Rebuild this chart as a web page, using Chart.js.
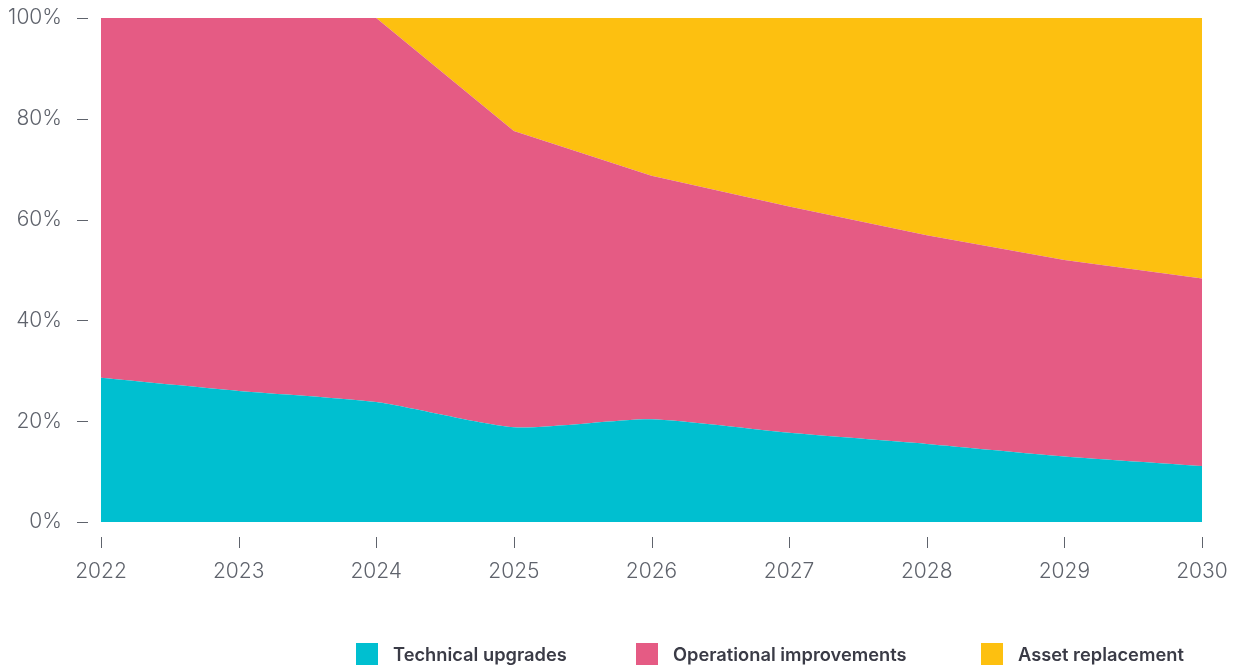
<!DOCTYPE html>
<html><head><meta charset="utf-8">
<script src="https://cdn.jsdelivr.net/npm/chart.js@4.4.1/dist/chart.umd.min.js"></script>
<style>
html,body{margin:0;padding:0;background:#fff;}
#wrap{position:relative;width:1237px;height:666px;}
.li{position:absolute;top:643px;display:flex;align-items:center;height:22px;font-family:Inter,"Noto Sans",sans-serif;font-weight:600;font-size:18.3px;color:#3a3b46;white-space:nowrap;}
.sw{width:22px;height:22px;margin-right:15px;flex:none;}
</style></head>
<body>
<div id="wrap"><canvas id="c" width="1237" height="666"></canvas></div>
<script>
const years = ['2022','2023','2024','2025','2026','2027','2028','2029','2030'];
const technicalUpgrades = [28.6, 26.0, 23.8, 18.8, 20.4, 17.7, 15.5, 13.0, 11.1];
const operationalImprovements = [71.4, 74.0, 76.2, 58.8, 48.3, 44.9, 41.4, 39.0, 37.2];
const assetReplacement = [0, 0, 0, 22.4, 31.3, 37.4, 43.1, 48.0, 51.7];
const yTicks = [0, 20, 40, 60, 80, 100];
const seriesNames = ['Technical upgrades', 'Operational improvements', 'Asset replacement'];
const colors = ['#00BFD0', '#E55B84', '#FDC010'];
const tensions = [0.2, 0, 0];

const tickColor = '#5f636c';
const tickMarks = {
  id: 'tickMarks',
  afterDraw(chart) {
    const ctx = chart.ctx, x = chart.scales.x, y = chart.scales.y;
    ctx.save();
    ctx.strokeStyle = tickColor;
    ctx.lineWidth = 1;
    ctx.beginPath();
    yTicks.forEach(v => {
      const py = Math.round(y.getPixelForValue(v)) + 0.5;
      ctx.moveTo(77, py); ctx.lineTo(88, py);
    });
    years.forEach((_, i) => {
      const px = Math.round(x.getPixelForValue(i)) + 0.5;
      ctx.moveTo(px, chart.chartArea.bottom + 15); ctx.lineTo(px, chart.chartArea.bottom + 26);
    });
    ctx.stroke();
    ctx.restore();
  }
};

function zeroPad(s) { s.paddingTop = 0; s.paddingBottom = 0; s.paddingLeft = 0; s.paddingRight = 0; }

const datasets = [technicalUpgrades, operationalImprovements, assetReplacement].map((d, i) => ({
  label: seriesNames[i],
  data: d,
  backgroundColor: colors[i],
  borderColor: colors[i],
  borderWidth: 0,
  pointRadius: 0,
  fill: i === 0 ? 'origin' : '-1',
  tension: tensions[i]
}));

const tickFont = { family: 'Inter, "Noto Sans", sans-serif', size: 21, weight: 300 };

new Chart(document.getElementById('c'), {
  type: 'line',
  data: { labels: years, datasets },
  options: {
    responsive: false,
    animation: false,
    layout: { padding: { top: 18, right: 35, bottom: 74, left: 0 } },
    plugins: { legend: { display: false }, tooltip: { enabled: false } },
    scales: {
      x: {
        offset: false,
        grid: { display: false, drawTicks: false },
        border: { display: false },
        afterFit(s) { s.height = 70; zeroPad(s); },
        ticks: { color: tickColor, padding: 37, maxRotation: 0, font: tickFont }
      },
      y: {
        stacked: true,
        min: 0, max: 100,
        afterFit(s) { s.width = 101; zeroPad(s); },
        afterBuildTicks(s) { s.ticks = yTicks.map(v => ({ value: v })); },
        grid: { display: false, drawTicks: false },
        border: { display: false },
        ticks: { color: tickColor, padding: 39, callback: v => v + '%', font: tickFont }
      }
    }
  },
  plugins: [tickMarks]
});

const wrap = document.getElementById('wrap');
const legendX = [356, 636, 981];
seriesNames.forEach((n, i) => {
  const d = document.createElement('div');
  d.className = 'li';
  d.style.left = legendX[i] + 'px';
  d.innerHTML = '<span class="sw" style="background:' + colors[i] + '"></span><span>' + n + '</span>';
  wrap.appendChild(d);
});
</script>
</body></html>
